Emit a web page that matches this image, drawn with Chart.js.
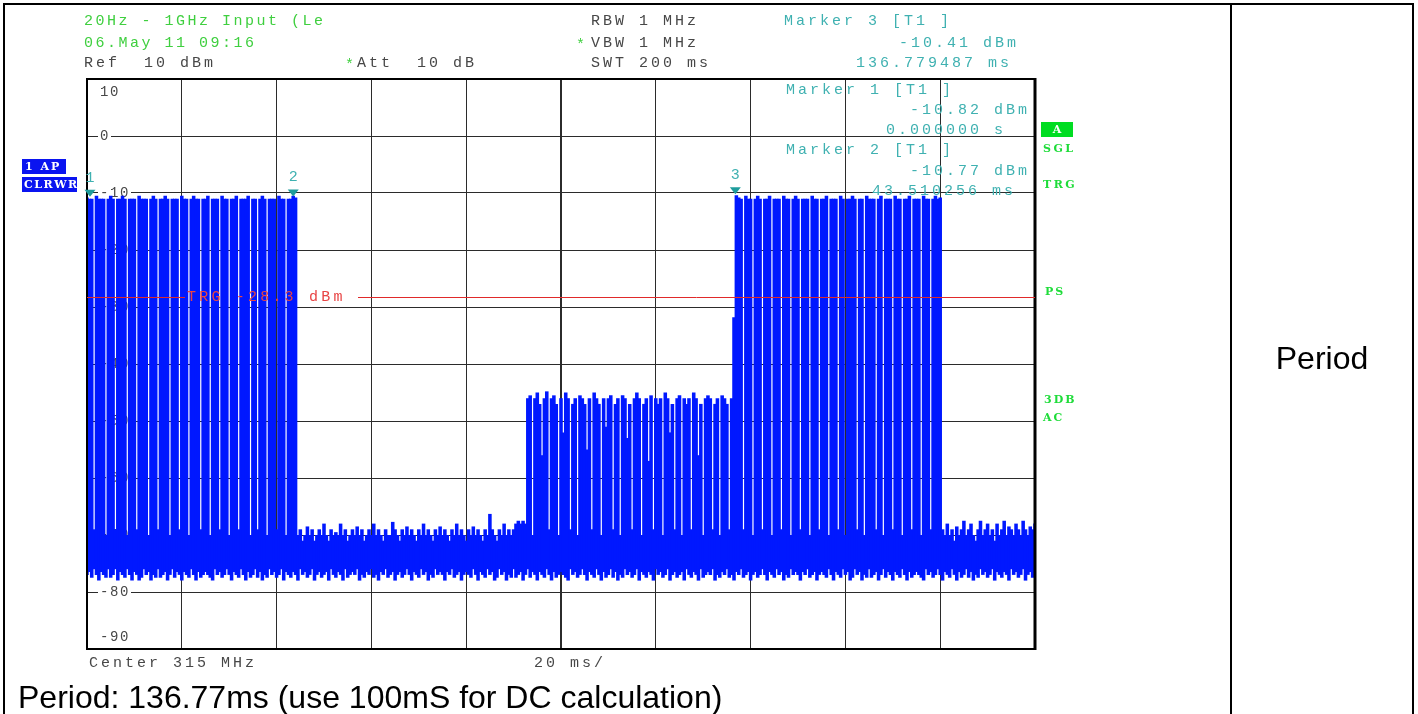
<!DOCTYPE html>
<html lang="en">
<head>
<meta charset="UTF-8">
<title>Period</title>
<script src="https://cdn.jsdelivr.net/npm/chart.js"></script>
<style>
  html, body { margin: 0; padding: 0; background: #fff; }
  body { width: 1418px; height: 714px; position: relative; overflow: hidden; font-family: "Liberation Sans", Arial, sans-serif; color: #000; }
  #wrap { position: absolute; left: 0; top: 0; width: 1418px; height: 714px; }
  .rule { position: absolute; background: #000; }
  #caption { position: absolute; left: 18px; top: 681px; font-size: 32px; line-height: 32px; white-space: nowrap; }
  #period { position: absolute; left: 1232px; width: 180px; top: 342px; font-size: 32px; line-height: 32px; text-align: center; }
</style>
</head>
<body>
  <div id="wrap"><canvas id="trace"></canvas></div>

  <!-- table borders -->
  <div class="rule" style="left:3px; top:3px; width:1411px; height:2px;"></div>
  <div class="rule" style="left:3px; top:3px; width:2px; height:711px;"></div>
  <div class="rule" style="left:1230px; top:3px; width:2px; height:711px;"></div>
  <div class="rule" style="left:1412px; top:3px; width:2px; height:711px;"></div>

  <div id="caption">Period: 136.77ms (use 100mS for DC calculation)</div>
  <div id="period">Period</div>

<script>
  // sweep: 200 ms, one auto-peak sample every 0.5 ms (dBm)
  const SWEEP_MS = 200;

  // max of each sample
  const peakMax = [
    // 0 - 44 ms: burst
    -10.8, -11, -11, -69, -10.5, -11, -11, -11, -70, -11,
    -10.5, -11, -69, -11, -11, -10.5, -11, -70, -11, -11,
    -11, -69, -10.5, -11, -11, -11, -70, -11, -10.5, -11,
    -69, -11, -11, -10.5, -11, -70, -11, -11, -11, -69,
    -10.5, -11, -11, -70, -11, -10.5, -11, -11, -69, -11,
    -11, -10.5, -70, -11, -11, -11, -69, -10.5, -11, -11,
    -70, -11, -11, -10.5, -69, -11, -11, -11, -10.5, -70,
    -11, -11, -69, -11, -10.5, -11, -70, -11, -11, -11,
    -69, -10.5, -11, -11, -70, -11, -11, -10.5, -10.8,
    // 44.5 - 92.5 ms: noise
    -70, -69, -71, -70, -68.5, -70, -69, -71, -70, -69,
    -70, -68, -70, -71, -69, -70, -69.5, -70, -68, -70,
    -69, -71, -70, -69, -70, -68.5, -70, -69, -71, -70,
    -69, -70, -68, -70, -69, -70, -71, -69, -70, -70,
    -67.7, -69, -70, -71, -69, -70, -68.5, -70, -69, -70,
    -71, -69, -70, -68, -70, -69, -70, -71, -69, -70,
    -68.5, -70, -69, -70, -71, -69, -70, -68, -70, -69,
    -70, -71, -69, -70, -68.5, -70, -69, -70, -71, -69,
    -70, -66.3, -69, -70, -71, -69, -70, -68, -70, -69,
    -70, -69, -68, -67.5, -68, -67.5, -68,
    // 93 - 136.5 ms: weaker packets
    -46, -45.5, -70, -46, -45, -47, -56, -46, -44.8, -69,
    -46, -45.5, -47, -70, -46, -52, -45, -46, -69, -47,
    -46, -70, -45.5, -46, -47, -55, -46, -69, -45, -46,
    -47, -70, -46, -51, -46, -45.5, -69, -47, -46, -70,
    -45.5, -46, -53, -47, -69, -46, -45, -46, -70, -47,
    -46, -57, -45.5, -69, -46, -47, -46, -70, -45, -46,
    -52, -47, -69, -46, -45.5, -70, -46, -47, -46, -69,
    -45, -46, -56, -47, -70, -46, -45.5, -46, -69, -47,
    -46, -70, -45.5, -46, -47, -69, -46, -31.8,
    // 137 - 180 ms: burst
    -10.4, -10.8, -11, -69, -10.5, -11, -11, -70, -11, -10.5,
    -11, -69, -11, -11, -10.5, -70, -11, -11, -11, -69,
    -10.5, -11, -11, -70, -11, -10.5, -11, -69, -11, -11,
    -11, -70, -10.5, -11, -11, -69, -11, -11, -10.5, -70,
    -11, -11, -11, -69, -10.5, -11, -70, -11, -11, -10.5,
    -11, -69, -11, -11, -70, -10.5, -11, -11, -11, -69,
    -11, -10.5, -70, -11, -11, -11, -69, -10.5, -11, -11,
    -70, -11, -11, -10.5, -69, -11, -11, -11, -70, -10.5,
    -11, -11, -69, -11, -10.5, -11, -10.8,
    // 180.5 - 200 ms: noise
    -69, -70, -68, -70, -69, -71, -68.5, -70, -69, -67.5,
    -70, -69, -68, -70, -71, -69, -67.5, -70, -69, -68,
    -70, -69, -71, -68, -70, -69, -67.5, -70, -68.5, -69,
    -70, -68, -69, -70, -67.5, -69, -70, -68.5, -69, -68
  ];

  // min of each sample
  const peakMin = [
    -77, -76.5, -77.5, -76, -77, -78, -76.5, -77, -77.5, -76,
    -77.5, -77, -76, -78, -76.5, -77, -77.5, -76, -77, -78,
    -76.5, -77, -78, -77.5, -76, -77, -76.5, -78, -77, -77.5,
    -76, -77.5, -77, -76.5, -78, -77, -76, -77.5, -76.5, -77,
    -78, -76.5, -77, -77.5, -76, -77, -78, -76.5, -77.5, -77,
    -76.5, -77, -77.5, -78, -76, -77, -76.5, -77.5, -77, -76,
    -77, -78, -76.5, -77, -77.5, -76, -77, -78, -76.5, -77.5,
    -77, -76, -77.5, -76.5, -78, -77, -77.5, -76, -77, -76.5,
    -77.5, -77, -76, -78, -76.5, -77, -77.5, -76.5, -77, -78,
    -76, -77, -76.5, -77.5, -77, -76, -78, -77, -76.5, -77.5,
    -77, -76.5, -78, -76, -77, -77.5, -76.5, -77, -78, -76,
    -77.5, -77, -76.5, -77, -76, -78, -77, -77.5, -76.5, -77,
    -76, -77.5, -77, -78, -76.5, -77, -76, -77.5, -77, -76.5,
    -78, -77, -76.5, -77.5, -77, -76, -77, -78, -76.5, -77,
    -77.5, -76, -77, -76.5, -78, -77, -77.5, -76, -77, -76.5,
    -77, -78, -76.5, -77, -76, -77.5, -77, -76.5, -78, -77,
    -76.5, -77, -77.5, -76, -77, -78, -76.5, -77, -77.5, -76,
    -77, -76.5, -78, -77.5, -76, -77, -76.5, -78, -77, -77.5,
    -76, -77.5, -77, -76.5, -78, -77, -76, -77.5, -76.5, -77,
    -78, -76.5, -77, -77.5, -76, -77, -78, -76.5, -77.5, -77,
    -76.5, -77, -77.5, -78, -76, -77, -76.5, -77.5, -77, -76,
    -77, -78, -76.5, -77, -77.5, -76, -77, -78, -76.5, -77.5,
    -77, -76, -77.5, -76.5, -78, -77, -77.5, -76, -77, -76.5,
    -77.5, -77, -76, -78, -76.5, -77, -77.5, -76.5, -77, -78,
    -76, -77, -76.5, -77.5, -77, -76, -78, -77, -76.5, -77.5,
    -77, -76.5, -78, -76, -77, -77.5, -76.5, -77, -78, -76,
    -77.5, -77, -76.5, -77, -76, -78, -77, -77.5, -76.5, -77,
    -76, -77.5, -77, -78, -76.5, -77, -76, -77.5, -77, -76.5,
    -78, -77, -76.5, -77.5, -77, -76, -77, -78, -76.5, -77,
    -77.5, -76, -77, -76.5, -78, -77, -77.5, -76, -77, -76.5,
    -77, -78, -76.5, -77, -76, -77.5, -77, -76.5, -78, -77,
    -76.5, -77, -77.5, -76, -77, -78, -76.5, -77, -77.5, -76,
    -77, -76.5, -78, -77.5, -76, -77, -76.5, -78, -77, -77.5,
    -76, -77.5, -77, -76.5, -78, -77, -76, -77.5, -76.5, -77,
    -78, -76.5, -77, -77.5, -76, -77, -78, -76.5, -77.5, -77,
    -76.5, -77, -77.5, -78, -76, -77, -76.5, -77.5, -77, -76,
    -77, -78, -76.5, -77, -77.5, -76, -77, -78, -76.5, -77.5,
    -77, -76, -77.5, -76.5, -78, -77, -77.5, -76, -77, -76.5,
    -77.5, -77, -76, -78, -76.5, -77, -77.5, -76.5, -77, -78,
    -76, -77, -76.5, -77.5, -77, -76, -78, -77, -76.5, -77.5,
    -77
  ];

  const markerNames = ['1', '2', '3'];
  const markerTimes = [0, 43.510256, 136.779487];
  const markerLevels = [-10.82, -10.77, -10.41];
  const trigLevel = -28.3;
  const yLabels = [10, 0, -10, -20, -30, -40, -50, -60, -70, -80, -90];

  const GREEN = '#3fcf3f';
  const TEAL = '#3fb1b1';
  const GREY = '#474747';
  const MONO = '15px "Liberation Mono", monospace';

  function mono(ctx, str, x, y, pitch) {
    for (let i = 0; i < str.length; i++) ctx.fillText(str[i], x + i * pitch, y);
  }
  function tracked(ctx, str, x, y, extra) {
    for (const ch of str) {
      ctx.fillText(ch, x, y);
      x += ctx.measureText(ch).width + extra;
    }
  }

  const analyzerText = {
    id: 'analyzerText',
    beforeDatasetsDraw(chart) {
      const { ctx, scales: { y } } = chart;
      ctx.save();
      ctx.textBaseline = 'middle';
      ctx.textAlign = 'left';
      ctx.font = '14px "Liberation Mono", monospace';
      // level labels break the grid lines
      yLabels.forEach((v, i) => {
        let py = y.getPixelForValue(v);
        if (i === 0) py += 13;
        if (i === yLabels.length - 1) py -= 12;
        const s = String(v);
        ctx.fillStyle = '#fff';
        ctx.fillRect(98, py - 6, s.length * 10 + 3, 12);
        ctx.fillStyle = GREY;
        mono(ctx, s, 100, py, 10);
      });
      // marker 1 and 2 readouts
      ctx.font = MONO;
      ctx.fillStyle = TEAL;
      mono(ctx, 'Marker ' + markerNames[0] + ' [T1 ]', 786, 90, 12);
      mono(ctx, markerLevels[0].toFixed(2) + ' dBm', 910, 110, 12);
      mono(ctx, markerTimes[0].toFixed(6) + ' s', 886, 130, 12);
      mono(ctx, 'Marker ' + markerNames[1] + ' [T1 ]', 786, 150, 12);
      mono(ctx, markerLevels[1].toFixed(2) + ' dBm', 910, 171, 12);
      mono(ctx, markerTimes[1].toFixed(6) + ' ms', 872, 191, 12);
      ctx.restore();
    },
    afterDatasetsDraw(chart) {
      const { ctx, chartArea: a, scales: { x, y } } = chart;
      ctx.save();
      // frame
      ctx.strokeStyle = '#000';
      ctx.lineWidth = 2;
      ctx.beginPath();
      ctx.moveTo(a.right, a.top); ctx.lineTo(a.left, a.top); ctx.lineTo(a.left, a.bottom); ctx.lineTo(a.right, a.bottom);
      ctx.stroke();
      ctx.lineWidth = 3;
      ctx.beginPath(); ctx.moveTo(a.right, a.top - 1); ctx.lineTo(a.right, a.bottom + 1); ctx.stroke();

      // trigger line
      const ty = Math.round(y.getPixelForValue(trigLevel)) + 0.5;
      ctx.strokeStyle = '#e02a2a';
      ctx.lineWidth = 1;
      ctx.beginPath();
      ctx.moveTo(a.left, ty); ctx.lineTo(185, ty);
      ctx.moveTo(358, ty); ctx.lineTo(a.right, ty);
      ctx.stroke();
      ctx.font = MONO;
      ctx.textBaseline = 'middle';
      ctx.fillStyle = '#e84444';
      mono(ctx, 'TRG ' + trigLevel.toFixed(1) + ' dBm', 187, ty, 12.2);

      // markers
      markerTimes.forEach((t, i) => {
        const px = x.getPixelForValue(t) + (i === 0 ? 3 : 0);
        const py = y.getPixelForValue(markerLevels[i]) - 1;
        ctx.fillStyle = '#1e9c9c';
        ctx.beginPath();
        ctx.moveTo(px - 5.5, py - 7); ctx.lineTo(px + 5.5, py - 7); ctx.lineTo(px, py);
        ctx.closePath(); ctx.fill();
        ctx.fillStyle = TEAL;
        ctx.textAlign = 'center';
        ctx.fillText(markerNames[i], px, py - 19);
      });
      ctx.restore();
    },
    afterDraw(chart) {
      const { ctx } = chart;
      ctx.save();
      ctx.textBaseline = 'middle';
      ctx.textAlign = 'left';
      ctx.font = MONO;
      // header
      ctx.fillStyle = GREEN;
      mono(ctx, '20Hz - 1GHz Input (Le', 84, 21, 11.5);
      mono(ctx, '06.May 11 09:16', 84, 43, 11.5);
      ctx.fillStyle = GREY;
      mono(ctx, 'Ref  10 dBm', 84, 63, 12);
      mono(ctx, 'Att  10 dB', 357, 63, 12);
      mono(ctx, 'RBW 1 MHz', 591, 21, 12);
      mono(ctx, 'VBW 1 MHz', 591, 43, 12);
      mono(ctx, 'SWT 200 ms', 591, 63, 12);
      ctx.fillStyle = GREEN;
      ctx.fillText('*', 345, 65);
      ctx.fillText('*', 576, 45);
      ctx.fillStyle = TEAL;
      mono(ctx, 'Marker ' + markerNames[2] + ' [T1 ]', 784, 21, 12);
      mono(ctx, markerLevels[2].toFixed(2) + ' dBm', 899, 43, 12);
      mono(ctx, markerTimes[2].toFixed(6) + ' ms', 856, 63, 12);
      // footer
      ctx.fillStyle = GREY;
      mono(ctx, 'Center 315 MHz', 89, 663, 12);
      mono(ctx, '20 ms/', 534, 663, 12);

      // trace status boxes
      ctx.fillStyle = '#0a14f0';
      ctx.fillRect(22, 159, 44, 15);
      ctx.fillRect(22, 177, 55, 15);
      ctx.fillStyle = '#fff';
      ctx.font = 'bold 11px "DejaVu Serif", serif';
      tracked(ctx, '1 AP', 25, 167, 2);
      tracked(ctx, 'CLRWR', 24, 185, 1.5);

      // status column
      ctx.fillStyle = '#00dd22';
      ctx.fillRect(1041, 122, 32, 15);
      ctx.fillStyle = '#fff';
      ctx.textAlign = 'center';
      ctx.fillText('A', 1057, 130);
      ctx.textAlign = 'left';
      ctx.fillStyle = '#1fdc3a';
      tracked(ctx, 'SGL', 1043, 149, 2.5);
      tracked(ctx, 'TRG', 1043, 185, 2.5);
      tracked(ctx, 'PS', 1045, 292, 2);
      tracked(ctx, '3DB', 1044, 400, 2);
      tracked(ctx, 'AC', 1043, 418, 2);
      ctx.restore();
    }
  };

  new Chart(document.getElementById('trace'), {
    type: 'bar',
    data: {
      datasets: [{
        data: peakMax.map((v, i) => ({ x: i * SWEEP_MS / (peakMax.length - 1), y: [peakMin[i], v] })),
        backgroundColor: 'rgb(0, 24, 255)',
        borderWidth: 0,
        barPercentage: 1.5,
        categoryPercentage: 1
      }]
    },
    options: {
      responsive: true,
      maintainAspectRatio: false,
      animation: false,
      events: [],
      layout: { padding: { left: 87, top: 79, right: 383, bottom: 65 } },
      plugins: { legend: { display: false }, tooltip: { enabled: false } },
      scales: {
        x: {
          type: 'linear', min: 0, max: SWEEP_MS, offset: false,
          ticks: { display: false, stepSize: 20 },
          grid: { offset: false, color: '#2b2b2b', lineWidth: c => (c.tick && c.tick.value === 100 ? 2 : 1), drawTicks: false },
          border: { display: false }
        },
        y: {
          min: -90, max: 10,
          ticks: { display: false, stepSize: 10 },
          grid: { color: '#2b2b2b', lineWidth: 1, drawTicks: false },
          border: { display: false }
        }
      }
    },
    plugins: [analyzerText]
  });
</script>
</body>
</html>
